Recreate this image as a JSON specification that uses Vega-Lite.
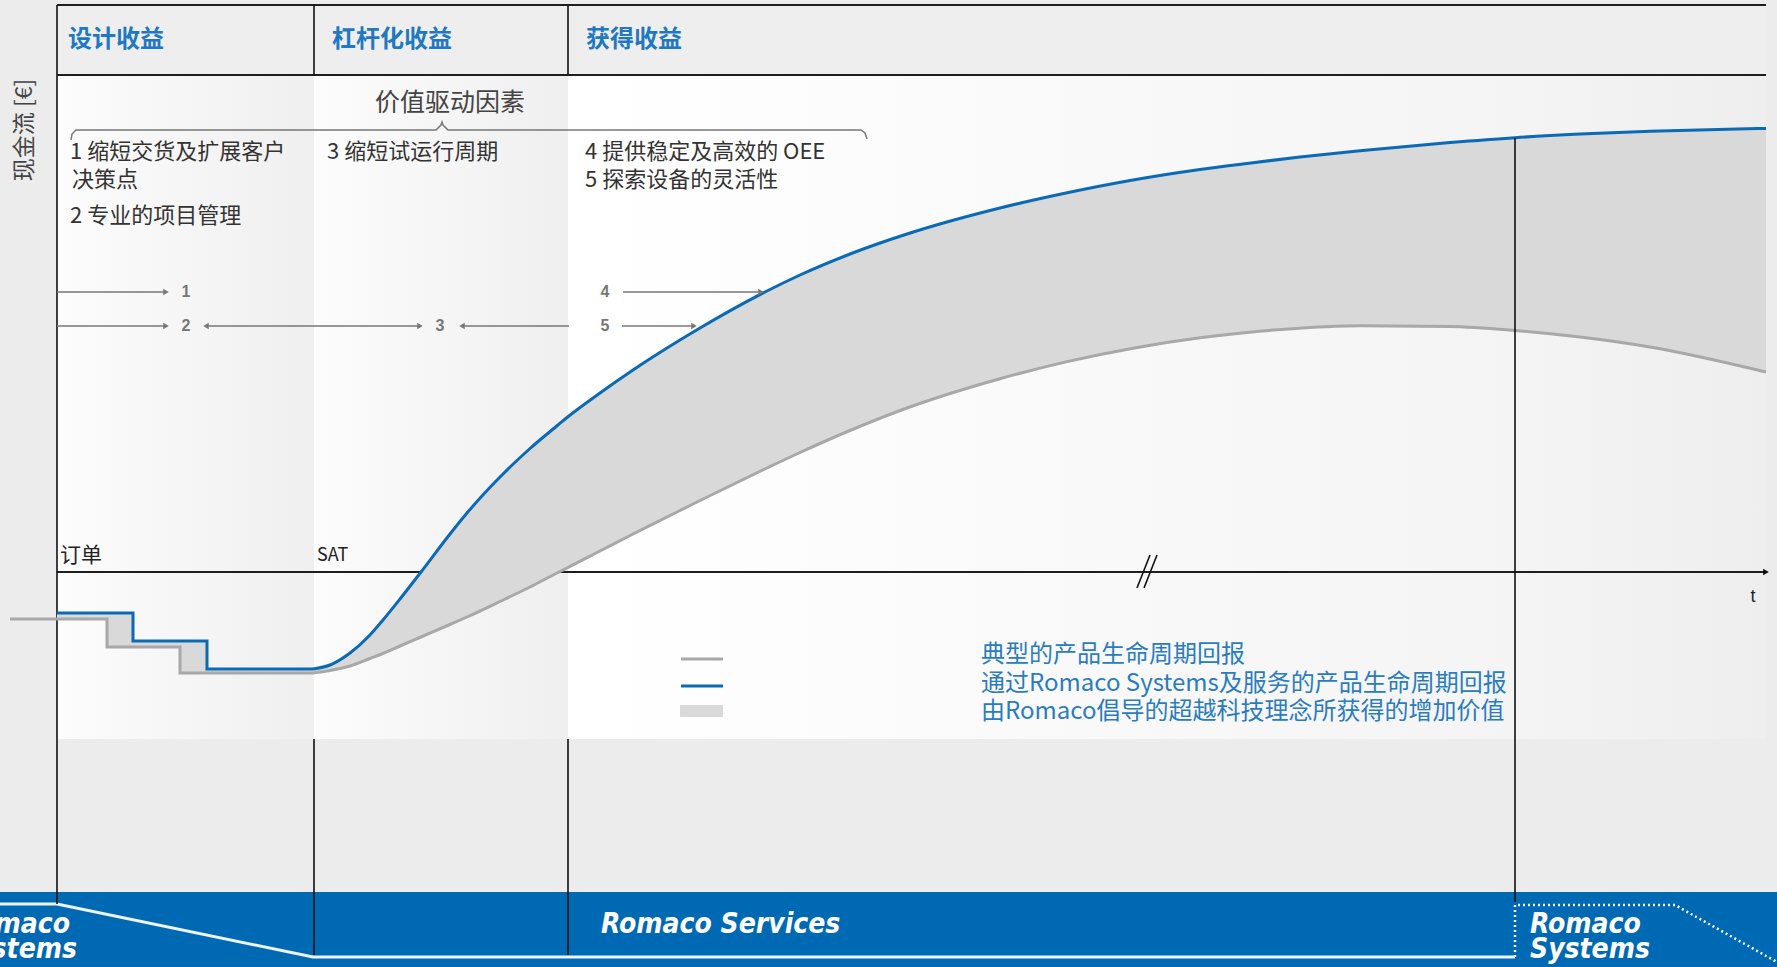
{
  "$schema": "https://vega.github.io/schema/vega-lite/v6.json",
  "width": 1777,
  "height": 967,
  "padding": 0,
  "autosize": {"type": "none"},
  "background": "#ececec",
  "config": {"view": {"stroke": null}, "font": "Noto Sans CJK SC"},
  "datasets": {
    "cols12": [{"t": 0, "t2": 257, "y": 497, "y2": -167}, {"t": 257, "t2": 511, "y": 497, "y2": -167}],
    "col3": [{"t": 511, "t2": 1458, "y": 497, "y2": -167}],
    "col4": [{"t": 1458, "t2": 1709, "y": 497, "y2": -167}],
    "header": [{"t": 0, "t2": 1709, "y": 567, "y2": 497}],
    "band": [{"t": -57, "t2": 1720, "y": -320, "y2": -395}],
    "bandLine": [{"o": 1, "t": -57, "y": -332}, {"o": 2, "t": 0, "y": -332}, {"o": 3, "t": 256, "y": -385}, {"o": 4, "t": 1458, "y": -385}],
    "bandDots": [{"o": 1, "t": 1458, "y": -385}, {"o": 2, "t": 1458, "y": -333}, {"o": 3, "t": 1618, "y": -333}, {"o": 4, "t": 1720, "y": -390}],
    "frameThick": [
      {"t": 0, "t2": 1709, "y": 567, "y2": 567},
      {"t": 0, "t2": 1709, "y": 497, "y2": 497},
      {"t": 0, "t2": 1709, "y": 0, "y2": 0}
    ],
    "frameThin": [
      {"t": 0, "t2": 0, "y": 567, "y2": -332},
      {"t": 257, "t2": 257, "y": 567, "y2": 497},
      {"t": 511, "t2": 511, "y": 567, "y2": 497},
      {"t": 257, "t2": 257, "y": -167, "y2": -383},
      {"t": 511, "t2": 511, "y": -167, "y2": -383},
      {"t": 1093, "t2": 1080, "y": 17, "y2": -16},
      {"t": 1100, "t2": 1087, "y": 17, "y2": -16}
    ],
    "frameTop": [{"t": 1458, "t2": 1458, "y": 434, "y2": -330}],
    "axisHead": [{"t": 1709, "y": 0}],
    "steps": [
      {"t": -47, "romaco": null, "typical": -47},
      {"t": 0, "romaco": -41, "typical": -47},
      {"t": 50, "romaco": -41, "typical": -47},
      {"t": 50, "romaco": -41, "typical": -75},
      {"t": 76, "romaco": -41, "typical": -75},
      {"t": 76, "romaco": -69, "typical": -75},
      {"t": 123, "romaco": -69, "typical": -75},
      {"t": 123, "romaco": -69, "typical": -101},
      {"t": 150, "romaco": -69, "typical": -101},
      {"t": 150, "romaco": -97, "typical": -101},
      {"t": 256, "romaco": -97, "typical": -101}
    ],
    "curve": [
      {"t": 256, "romaco": -97, "typical": -101},
      {"t": 273, "romaco": -93, "typical": -98.5},
      {"t": 293, "romaco": -81, "typical": -94},
      {"t": 313, "romaco": -63, "typical": -86.5},
      {"t": 326, "romaco": -48, "typical": -81.5},
      {"t": 343, "romaco": -27, "typical": -74},
      {"t": 364, "romaco": 0, "typical": -65},
      {"t": 393, "romaco": 38, "typical": -52.5},
      {"t": 410, "romaco": 59, "typical": -45},
      {"t": 443, "romaco": 95, "typical": -29.5},
      {"t": 473, "romaco": 123.5, "typical": -15},
      {"t": 501, "romaco": 147, "typical": -0.5},
      {"t": 510, "romaco": 154.5, "typical": 4},
      {"t": 543, "romaco": 179, "typical": 21},
      {"t": 576, "romaco": 202, "typical": 38},
      {"t": 610, "romaco": 224, "typical": 55},
      {"t": 643, "romaco": 244, "typical": 71.5},
      {"t": 710, "romaco": 281, "typical": 104},
      {"t": 743, "romaco": 297, "typical": 119.5},
      {"t": 793, "romaco": 318, "typical": 141.5},
      {"t": 850, "romaco": 338, "typical": 164},
      {"t": 943, "romaco": 364, "typical": 193.3},
      {"t": 1009, "romaco": 379, "typical": 210.1},
      {"t": 1076, "romaco": 392, "typical": 223.8},
      {"t": 1143, "romaco": 402.5, "typical": 234.2},
      {"t": 1190, "romaco": 408.6, "typical": 239.6},
      {"t": 1243, "romaco": 415, "typical": 243.8},
      {"t": 1303, "romaco": 421.3, "typical": 246.2},
      {"t": 1393, "romaco": 429.4, "typical": 245.5},
      {"t": 1458, "romaco": 434.3, "typical": 241.5},
      {"t": 1523, "romaco": 437.9, "typical": 235},
      {"t": 1593, "romaco": 440.7, "typical": 225},
      {"t": 1709, "romaco": 443.6, "typical": 200}
    ],
    "shafts": [
      {"t": 0, "t2": 109, "y": 280},
      {"t": 0, "t2": 109, "y": 246},
      {"t": 149, "t2": 363, "y": 246},
      {"t": 405, "t2": 512, "y": 246},
      {"t": 566, "t2": 704, "y": 280},
      {"t": 565, "t2": 637, "y": 246}
    ],
    "heads": [
      {"t": 109, "y": 280, "dir": "right"},
      {"t": 109, "y": 246, "dir": "right"},
      {"t": 149, "y": 246, "dir": "left"},
      {"t": 363, "y": 246, "dir": "right"},
      {"t": 405, "y": 246, "dir": "left"},
      {"t": 704, "y": 280, "dir": "right"},
      {"t": 637, "y": 246, "dir": "right"}
    ],
    "brace": [
      {"o": 1, "t": 14, "y": 432},
      {"o": 2, "t": 15, "y": 438},
      {"o": 3, "t": 19, "y": 442},
      {"o": 4, "t": 379, "y": 442},
      {"o": 5, "t": 384, "y": 447},
      {"o": 6, "t": 385, "y": 450},
      {"o": 7, "t": 386, "y": 447},
      {"o": 8, "t": 391, "y": 442},
      {"o": 9, "t": 804, "y": 442},
      {"o": 10, "t": 808, "y": 439},
      {"o": 11, "t": 810, "y": 433}
    ],
    "legendLines": [
      {"series": "typical", "t": 624, "t2": 666, "y": -87},
      {"series": "romaco", "t": 624, "t2": 666, "y": -114}
    ],
    "legendRect": [{"t": 623, "t2": 666, "y": -133, "y2": -145}],
    "hdr": [
      {"t": 11, "y": 532, "label": "设计收益"},
      {"t": 275, "y": 532, "label": "杠杆化收益"},
      {"t": 529, "y": 532, "label": "获得收益"}
    ],
    "body": [
      {"t": 13, "y": 420, "label": "1 缩短交货及扩展客户"},
      {"t": 15, "y": 392, "label": "决策点"},
      {"t": 13, "y": 356, "label": "2 专业的项目管理"},
      {"t": 270, "y": 420, "label": "3 缩短试运行周期"},
      {"t": 528, "y": 420, "label": "4 提供稳定及高效的  OEE"},
      {"t": 528, "y": 392, "label": "5 探索设备的灵活性"}
    ],
    "nums": [
      {"t": 129, "y": 280, "label": "1"},
      {"t": 129, "y": 246, "label": "2"},
      {"t": 383, "y": 246, "label": "3"},
      {"t": 548, "y": 280, "label": "4"},
      {"t": 548, "y": 246, "label": "5"}
    ],
    "legendText": [
      {"t": 924, "y": -83, "label": "典型的产品生命周期回报"},
      {"t": 924, "y": -112, "label": "通过Romaco Systems及服务的产品生命周期回报"},
      {"t": 924, "y": -140, "label": "由Romaco倡导的超越科技理念所获得的增加价值"}
    ],
    "svc": [
      {"t": 544, "y": -353, "label": "Romaco Services"},
      {"t": 1473, "y": -353, "label": "Romaco"},
      {"t": 1473, "y": -378, "label": "Systems"}
    ],
    "svcLeft": [
      {"t": 13, "y": -353, "label": "Romaco"},
      {"t": 20, "y": -378, "label": "Systems"}
    ]
  },
  "layer": [
    {
      "data": {"name": "header"},
      "mark": {"type": "rect", "fill": "#eeeeee"},
      "encoding": {
        "x": {"field": "t", "type": "quantitative", "scale": {"domain": [-57, 1720], "nice": false, "zero": false}, "axis": null},
        "x2": {"field": "t2"},
        "y": {"field": "y", "type": "quantitative", "scale": {"domain": [-395, 572], "nice": false, "zero": false}, "axis": null},
        "y2": {"field": "y2"}
      }
    },
    {
      "data": {"name": "cols12"},
      "mark": {"type": "rect", "fill": {"gradient": "linear", "x1": 0, "y1": 0, "x2": 1, "y2": 0, "stops": [{"offset": 0, "color": "#fcfcfc"}, {"offset": 1, "color": "#efefef"}]}},
      "encoding": {
        "x": {"field": "t", "type": "quantitative", "scale": {"domain": [-57, 1720], "nice": false, "zero": false}, "axis": null},
        "x2": {"field": "t2"},
        "y": {"field": "y", "type": "quantitative", "scale": {"domain": [-395, 572], "nice": false, "zero": false}, "axis": null},
        "y2": {"field": "y2"}
      }
    },
    {
      "data": {"name": "col3"},
      "mark": {"type": "rect", "fill": {"gradient": "linear", "x1": 0, "y1": 0, "x2": 1, "y2": 0, "stops": [{"offset": 0, "color": "#ffffff"}, {"offset": 1, "color": "#f4f4f4"}]}},
      "encoding": {
        "x": {"field": "t", "type": "quantitative", "scale": {"domain": [-57, 1720], "nice": false, "zero": false}, "axis": null},
        "x2": {"field": "t2"},
        "y": {"field": "y", "type": "quantitative", "scale": {"domain": [-395, 572], "nice": false, "zero": false}, "axis": null},
        "y2": {"field": "y2"}
      }
    },
    {
      "data": {"name": "col4"},
      "mark": {"type": "rect", "fill": {"gradient": "linear", "x1": 0, "y1": 0, "x2": 1, "y2": 0, "stops": [{"offset": 0, "color": "#f4f4f4"}, {"offset": 1, "color": "#eeeeee"}]}},
      "encoding": {
        "x": {"field": "t", "type": "quantitative", "scale": {"domain": [-57, 1720], "nice": false, "zero": false}, "axis": null},
        "x2": {"field": "t2"},
        "y": {"field": "y", "type": "quantitative", "scale": {"domain": [-395, 572], "nice": false, "zero": false}, "axis": null},
        "y2": {"field": "y2"}
      }
    },
    {
      "data": {"name": "band"},
      "mark": {"type": "rect", "fill": "#0069b3"},
      "encoding": {
        "x": {"field": "t", "type": "quantitative", "scale": {"domain": [-57, 1720], "nice": false, "zero": false}, "axis": null},
        "x2": {"field": "t2"},
        "y": {"field": "y", "type": "quantitative", "scale": {"domain": [-395, 572], "nice": false, "zero": false}, "axis": null},
        "y2": {"field": "y2"}
      }
    },
    {
      "data": {"name": "bandLine"},
      "mark": {"type": "line", "stroke": "#eef4fa", "strokeWidth": 3},
      "encoding": {
        "x": {"field": "t", "type": "quantitative", "scale": {"domain": [-57, 1720], "nice": false, "zero": false}, "axis": null},
        "y": {"field": "y", "type": "quantitative", "scale": {"domain": [-395, 572], "nice": false, "zero": false}, "axis": null},
        "order": {"field": "o"}
      }
    },
    {
      "data": {"name": "bandDots"},
      "mark": {"type": "line", "stroke": "#ffffff", "strokeWidth": 2.5, "strokeDash": [2, 3]},
      "encoding": {
        "x": {"field": "t", "type": "quantitative", "scale": {"domain": [-57, 1720], "nice": false, "zero": false}, "axis": null},
        "y": {"field": "y", "type": "quantitative", "scale": {"domain": [-395, 572], "nice": false, "zero": false}, "axis": null},
        "order": {"field": "o"}
      }
    },
    {
      "data": {"name": "frameThick"},
      "mark": {"type": "rule", "color": "#1e1e1e", "strokeWidth": 2.2},
      "encoding": {
        "x": {"field": "t", "type": "quantitative", "scale": {"domain": [-57, 1720], "nice": false, "zero": false}, "axis": null},
        "x2": {"field": "t2"},
        "y": {"field": "y", "type": "quantitative", "scale": {"domain": [-395, 572], "nice": false, "zero": false}, "axis": null},
        "y2": {"field": "y2"}
      }
    },
    {
      "data": {"name": "frameThin"},
      "mark": {"type": "rule", "color": "#111111", "strokeWidth": 1.6},
      "encoding": {
        "x": {"field": "t", "type": "quantitative", "scale": {"domain": [-57, 1720], "nice": false, "zero": false}, "axis": null},
        "x2": {"field": "t2"},
        "y": {"field": "y", "type": "quantitative", "scale": {"domain": [-395, 572], "nice": false, "zero": false}, "axis": null},
        "y2": {"field": "y2"}
      }
    },
    {
      "data": {"name": "axisHead"},
      "mark": {"type": "point", "shape": "triangle-right", "filled": true, "color": "#111111", "size": 45, "opacity": 1},
      "encoding": {
        "x": {"field": "t", "type": "quantitative", "scale": {"domain": [-57, 1720], "nice": false, "zero": false}, "axis": null},
        "y": {"field": "y", "type": "quantitative", "scale": {"domain": [-395, 572], "nice": false, "zero": false}, "axis": null}
      }
    },
    {
      "data": {"name": "steps"},
      "mark": {"type": "area", "color": "#d9d9d9", "opacity": 1},
      "encoding": {
        "x": {"field": "t", "type": "quantitative", "scale": {"domain": [-57, 1720], "nice": false, "zero": false}, "axis": null},
        "y": {"field": "romaco", "type": "quantitative", "scale": {"domain": [-395, 572], "nice": false, "zero": false}, "axis": null},
        "y2": {"field": "typical"}
      }
    },
    {
      "data": {"name": "curve"},
      "mark": {"type": "area", "color": "#d9d9d9", "opacity": 1, "interpolate": "monotone"},
      "encoding": {
        "x": {"field": "t", "type": "quantitative", "scale": {"domain": [-57, 1720], "nice": false, "zero": false}, "axis": null},
        "y": {"field": "romaco", "type": "quantitative", "scale": {"domain": [-395, 572], "nice": false, "zero": false}, "axis": null},
        "y2": {"field": "typical"}
      }
    },
    {
      "data": {"name": "steps"},
      "mark": {"type": "line", "color": "#a8a8a8", "strokeWidth": 3, "strokeJoin": "miter"},
      "encoding": {
        "x": {"field": "t", "type": "quantitative", "scale": {"domain": [-57, 1720], "nice": false, "zero": false}, "axis": null},
        "y": {"field": "typical", "type": "quantitative", "scale": {"domain": [-395, 572], "nice": false, "zero": false}, "axis": null}
      }
    },
    {
      "data": {"name": "curve"},
      "mark": {"type": "line", "color": "#a8a8a8", "strokeWidth": 3, "interpolate": "monotone"},
      "encoding": {
        "x": {"field": "t", "type": "quantitative", "scale": {"domain": [-57, 1720], "nice": false, "zero": false}, "axis": null},
        "y": {"field": "typical", "type": "quantitative", "scale": {"domain": [-395, 572], "nice": false, "zero": false}, "axis": null}
      }
    },
    {
      "data": {"name": "steps"},
      "mark": {"type": "line", "color": "#0a6ab6", "strokeWidth": 3, "strokeJoin": "miter"},
      "encoding": {
        "x": {"field": "t", "type": "quantitative", "scale": {"domain": [-57, 1720], "nice": false, "zero": false}, "axis": null},
        "y": {"field": "romaco", "type": "quantitative", "scale": {"domain": [-395, 572], "nice": false, "zero": false}, "axis": null}
      }
    },
    {
      "data": {"name": "curve"},
      "mark": {"type": "line", "color": "#0a6ab6", "strokeWidth": 3, "interpolate": "monotone"},
      "encoding": {
        "x": {"field": "t", "type": "quantitative", "scale": {"domain": [-57, 1720], "nice": false, "zero": false}, "axis": null},
        "y": {"field": "romaco", "type": "quantitative", "scale": {"domain": [-395, 572], "nice": false, "zero": false}, "axis": null}
      }
    },
    {
      "data": {"name": "frameTop"},
      "mark": {"type": "rule", "color": "#111111", "strokeWidth": 1.6},
      "encoding": {
        "x": {"field": "t", "type": "quantitative", "scale": {"domain": [-57, 1720], "nice": false, "zero": false}, "axis": null},
        "x2": {"field": "t2"},
        "y": {"field": "y", "type": "quantitative", "scale": {"domain": [-395, 572], "nice": false, "zero": false}, "axis": null},
        "y2": {"field": "y2"}
      }
    },
    {
      "data": {"name": "shafts"},
      "mark": {"type": "rule", "color": "#777777", "strokeWidth": 1.5},
      "encoding": {
        "x": {"field": "t", "type": "quantitative", "scale": {"domain": [-57, 1720], "nice": false, "zero": false}, "axis": null},
        "x2": {"field": "t2"},
        "y": {"field": "y", "type": "quantitative", "scale": {"domain": [-395, 572], "nice": false, "zero": false}, "axis": null}
      }
    },
    {
      "data": {"name": "heads"},
      "mark": {"type": "point", "filled": true, "color": "#777777", "size": 40, "opacity": 1},
      "encoding": {
        "x": {"field": "t", "type": "quantitative", "scale": {"domain": [-57, 1720], "nice": false, "zero": false}, "axis": null},
        "y": {"field": "y", "type": "quantitative", "scale": {"domain": [-395, 572], "nice": false, "zero": false}, "axis": null},
        "shape": {"field": "dir", "type": "nominal", "scale": {"domain": ["right", "left"], "range": ["triangle-right", "triangle-left"]}, "legend": null}
      }
    },
    {
      "data": {"name": "brace"},
      "mark": {"type": "line", "color": "#777777", "strokeWidth": 1.5},
      "encoding": {
        "x": {"field": "t", "type": "quantitative", "scale": {"domain": [-57, 1720], "nice": false, "zero": false}, "axis": null},
        "y": {"field": "y", "type": "quantitative", "scale": {"domain": [-395, 572], "nice": false, "zero": false}, "axis": null},
        "order": {"field": "o"}
      }
    },
    {
      "data": {"name": "legendRect"},
      "mark": {"type": "rect", "fill": "#d9d9d9"},
      "encoding": {
        "x": {"field": "t", "type": "quantitative", "scale": {"domain": [-57, 1720], "nice": false, "zero": false}, "axis": null},
        "x2": {"field": "t2"},
        "y": {"field": "y", "type": "quantitative", "scale": {"domain": [-395, 572], "nice": false, "zero": false}, "axis": null},
        "y2": {"field": "y2"}
      }
    },
    {
      "data": {"name": "legendLines"},
      "mark": {"type": "rule", "strokeWidth": 3},
      "encoding": {
        "x": {"field": "t", "type": "quantitative", "scale": {"domain": [-57, 1720], "nice": false, "zero": false}, "axis": null},
        "x2": {"field": "t2"},
        "y": {"field": "y", "type": "quantitative", "scale": {"domain": [-395, 572], "nice": false, "zero": false}, "axis": null},
        "color": {"field": "series", "type": "nominal", "scale": {"domain": ["typical", "romaco"], "range": ["#a8a8a8", "#0a6ab6"]}, "legend": null}
      }
    },
    {
      "data": {"name": "hdr"},
      "mark": {"type": "text", "align": "left", "baseline": "middle", "fontSize": 24, "fontWeight": "bold", "color": "#1f78c1", "font": "Noto Sans CJK SC"},
      "encoding": {
        "x": {"field": "t", "type": "quantitative", "scale": {"domain": [-57, 1720], "nice": false, "zero": false}, "axis": null},
        "y": {"field": "y", "type": "quantitative", "scale": {"domain": [-395, 572], "nice": false, "zero": false}, "axis": null},
        "text": {"field": "label"}
      }
    },
    {
      "data": {"values": [{"t": 393, "y": 469, "label": "价值驱动因素"}]},
      "mark": {"type": "text", "align": "center", "baseline": "middle", "fontSize": 25, "color": "#444444", "font": "Noto Sans CJK SC"},
      "encoding": {
        "x": {"field": "t", "type": "quantitative", "scale": {"domain": [-57, 1720], "nice": false, "zero": false}, "axis": null},
        "y": {"field": "y", "type": "quantitative", "scale": {"domain": [-395, 572], "nice": false, "zero": false}, "axis": null},
        "text": {"field": "label"}
      }
    },
    {
      "data": {"name": "body"},
      "mark": {"type": "text", "align": "left", "baseline": "middle", "fontSize": 22, "color": "#333333", "font": "Noto Sans CJK SC"},
      "encoding": {
        "x": {"field": "t", "type": "quantitative", "scale": {"domain": [-57, 1720], "nice": false, "zero": false}, "axis": null},
        "y": {"field": "y", "type": "quantitative", "scale": {"domain": [-395, 572], "nice": false, "zero": false}, "axis": null},
        "text": {"field": "label"}
      }
    },
    {
      "data": {"name": "nums"},
      "mark": {"type": "text", "align": "center", "baseline": "middle", "fontSize": 16, "fontWeight": "bold", "color": "#777777", "font": "Liberation Sans"},
      "encoding": {
        "x": {"field": "t", "type": "quantitative", "scale": {"domain": [-57, 1720], "nice": false, "zero": false}, "axis": null},
        "y": {"field": "y", "type": "quantitative", "scale": {"domain": [-395, 572], "nice": false, "zero": false}, "axis": null},
        "text": {"field": "label"}
      }
    },
    {
      "data": {"values": [{"t": 3, "y": 16, "label": "订单"}]},
      "mark": {"type": "text", "align": "left", "baseline": "middle", "fontSize": 21, "color": "#222222", "font": "Noto Sans CJK SC"},
      "encoding": {
        "x": {"field": "t", "type": "quantitative", "scale": {"domain": [-57, 1720], "nice": false, "zero": false}, "axis": null},
        "y": {"field": "y", "type": "quantitative", "scale": {"domain": [-395, 572], "nice": false, "zero": false}, "axis": null},
        "text": {"field": "label"}
      }
    },
    {
      "data": {"values": [{"t": 260, "y": 16, "label": "SAT"}]},
      "mark": {"type": "text", "align": "left", "baseline": "middle", "fontSize": 18, "color": "#222222", "font": "Noto Sans CJK SC"},
      "encoding": {
        "x": {"field": "t", "type": "quantitative", "scale": {"domain": [-57, 1720], "nice": false, "zero": false}, "axis": null},
        "y": {"field": "y", "type": "quantitative", "scale": {"domain": [-395, 572], "nice": false, "zero": false}, "axis": null},
        "text": {"field": "label"}
      }
    },
    {
      "data": {"values": [{"t": 1696, "y": -25, "label": "t"}]},
      "mark": {"type": "text", "align": "center", "baseline": "middle", "fontSize": 18, "color": "#222222", "font": "Liberation Sans"},
      "encoding": {
        "x": {"field": "t", "type": "quantitative", "scale": {"domain": [-57, 1720], "nice": false, "zero": false}, "axis": null},
        "y": {"field": "y", "type": "quantitative", "scale": {"domain": [-395, 572], "nice": false, "zero": false}, "axis": null},
        "text": {"field": "label"}
      }
    },
    {
      "data": {"values": [{"t": -32, "y": 442, "label": "现金流 [€]"}]},
      "mark": {"type": "text", "align": "center", "baseline": "middle", "angle": 270, "fontSize": 23, "color": "#444444", "font": "Noto Sans CJK SC"},
      "encoding": {
        "x": {"field": "t", "type": "quantitative", "scale": {"domain": [-57, 1720], "nice": false, "zero": false}, "axis": null},
        "y": {"field": "y", "type": "quantitative", "scale": {"domain": [-395, 572], "nice": false, "zero": false}, "axis": null},
        "text": {"field": "label"}
      }
    },
    {
      "data": {"name": "legendText"},
      "mark": {"type": "text", "align": "left", "baseline": "middle", "fontSize": 24, "color": "#2a7cbf", "font": "Noto Sans CJK SC"},
      "encoding": {
        "x": {"field": "t", "type": "quantitative", "scale": {"domain": [-57, 1720], "nice": false, "zero": false}, "axis": null},
        "y": {"field": "y", "type": "quantitative", "scale": {"domain": [-395, 572], "nice": false, "zero": false}, "axis": null},
        "text": {"field": "label"}
      }
    },
    {
      "data": {"name": "svc"},
      "mark": {"type": "text", "align": "left", "baseline": "middle", "fontSize": 28, "fontWeight": "bold", "fontStyle": "italic", "color": "#ffffff", "font": "Liberation Sans Narrow, DejaVu Sans Condensed, Liberation Sans"},
      "encoding": {
        "x": {"field": "t", "type": "quantitative", "scale": {"domain": [-57, 1720], "nice": false, "zero": false}, "axis": null},
        "y": {"field": "y", "type": "quantitative", "scale": {"domain": [-395, 572], "nice": false, "zero": false}, "axis": null},
        "text": {"field": "label"}
      }
    },
    {
      "data": {"name": "svcLeft"},
      "mark": {"type": "text", "align": "right", "baseline": "middle", "fontSize": 28, "fontWeight": "bold", "fontStyle": "italic", "color": "#ffffff", "font": "Liberation Sans Narrow, DejaVu Sans Condensed, Liberation Sans"},
      "encoding": {
        "x": {"field": "t", "type": "quantitative", "scale": {"domain": [-57, 1720], "nice": false, "zero": false}, "axis": null},
        "y": {"field": "y", "type": "quantitative", "scale": {"domain": [-395, 572], "nice": false, "zero": false}, "axis": null},
        "text": {"field": "label"}
      }
    }
  ]
}
